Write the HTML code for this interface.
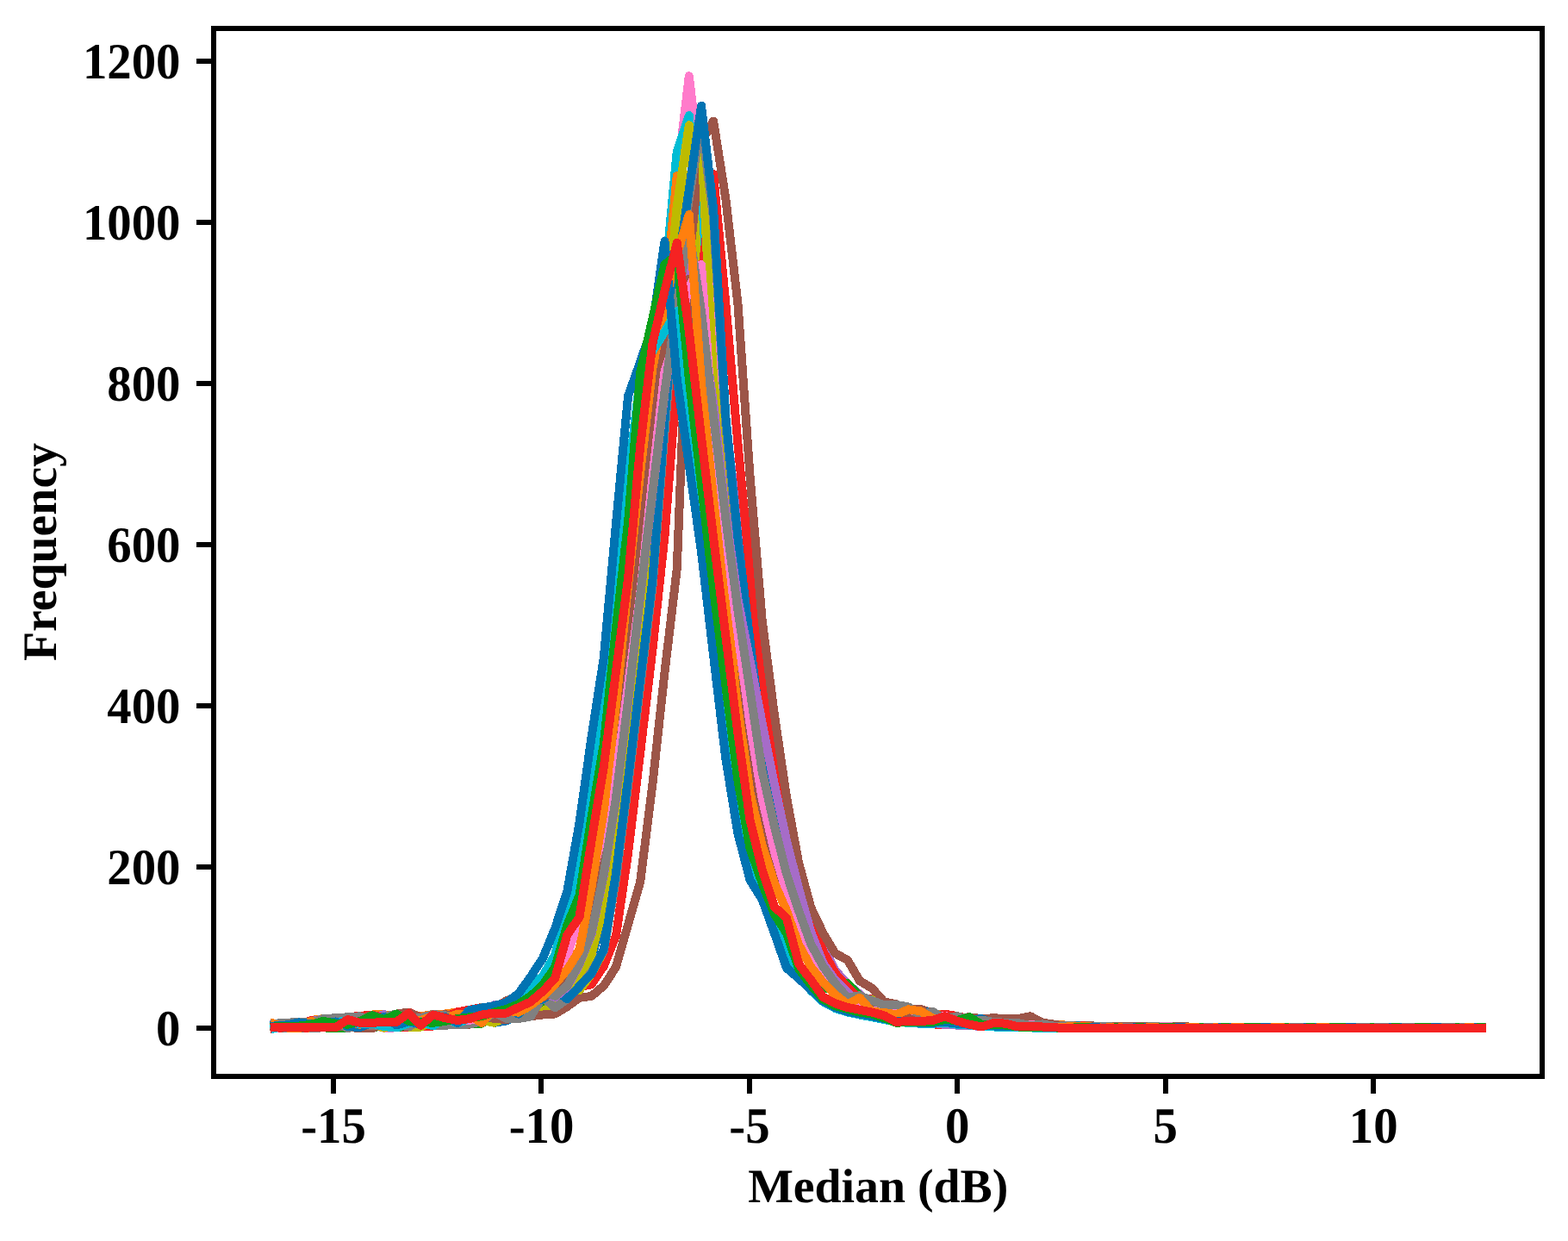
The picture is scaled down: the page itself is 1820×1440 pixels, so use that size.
<!DOCTYPE html>
<html lang="en">
<head>
<meta charset="utf-8">
<title>Median (dB) frequency histogram</title>
<style>
html,body{margin:0;padding:0;background:#fff;}
svg{display:block;}
text{font-family:"Liberation Serif","DejaVu Serif",serif;font-weight:bold;fill:#000;}
.t{font-size:56.8px;}
.l{font-size:55.8px;}
.c{fill:none;stroke-width:10;stroke-linejoin:round;stroke-linecap:square;}
</style>
</head>
<body>
<svg width="1820" height="1440" viewBox="0 0 1820 1440" shape-rendering="crispEdges" text-rendering="geometricPrecision">
<rect x="0" y="0" width="1820" height="1440" fill="#fff"/>
<g class="c">
<polyline stroke="#0173b2" points="318.8,1190.8 332.9,1190.9 347.0,1193.3 361.2,1191.7 375.3,1191.5 389.5,1189.7 403.6,1188.2 417.8,1193.3 431.9,1193.3 446.1,1185.9 460.2,1191.2 474.4,1185.2 488.5,1191.5 502.7,1189.4 516.8,1185.2 531.0,1189.1 545.1,1179.7 559.3,1178.5 573.4,1186.8 587.6,1184.5 601.7,1177.6 615.9,1164.7 630.0,1174.0 644.2,1166.4 658.3,1151.2 672.5,1137.1 686.6,1112.1 700.8,1060.0 714.9,985.5 729.1,890.7 743.2,768.1 757.4,642.8 771.5,496.6 785.7,385.2 799.8,295.7 814.0,258.3 828.1,323.8 842.3,520.9 856.4,644.4 870.6,742.0 884.7,835.8 898.9,919.5 913.0,981.3 927.2,1029.5 941.3,1069.0 955.5,1107.9 969.6,1135.1 983.8,1145.3 997.9,1162.4 1012.1,1167.8 1026.2,1176.2 1040.3,1180.3 1054.5,1179.2 1068.6,1185.2 1082.8,1187.8 1096.9,1187.4 1111.1,1189.6 1125.2,1190.2 1139.4,1188.6 1153.5,1188.3 1167.7,1190.6 1181.8,1191.9 1196.0,1192.4 1210.1,1192.1 1224.3,1190.7 1238.4,1191.9 1252.6,1192.8 1266.7,1191.9 1280.9,1193.3 1295.0,1193.0 1309.2,1192.0 1323.3,1192.9 1337.5,1193.1 1351.6,1193.3 1365.8,1193.0 1379.9,1192.3 1394.1,1193.3 1408.2,1192.6 1422.4,1192.6 1436.5,1192.5 1450.7,1192.7 1464.8,1192.6 1479.0,1193.1 1493.1,1193.0 1507.3,1193.2 1521.4,1193.3 1535.6,1192.6 1549.7,1193.0 1563.9,1193.3 1578.0,1193.1 1592.2,1193.2 1606.3,1193.3 1620.5,1193.3 1634.6,1193.1 1648.8,1193.0 1662.9,1193.0 1677.1,1193.2 1691.2,1193.3 1705.4,1193.3 1719.5,1193.3"/>
<polyline stroke="#ff7f0e" points="318.8,1187.7 332.9,1189.7 347.0,1189.0 361.2,1184.0 375.3,1182.1 389.5,1181.2 403.6,1183.1 417.8,1178.9 431.9,1177.5 446.1,1177.0 460.2,1182.1 474.4,1176.4 488.5,1179.4 502.7,1177.0 516.8,1176.5 531.0,1174.2 545.1,1171.9 559.3,1170.8 573.4,1171.4 587.6,1171.9 601.7,1168.2 615.9,1153.4 630.0,1153.0 644.2,1147.9 658.3,1134.9 672.5,1113.9 686.6,1061.9 700.8,986.5 714.9,892.0 729.1,769.4 743.2,644.3 757.4,498.2 771.5,396.3 785.7,323.8 799.8,267.7 814.0,351.8 828.1,519.6 842.3,643.1 856.4,741.0 870.6,834.8 884.7,918.8 898.9,980.6 913.0,1029.1 927.2,1071.2 941.3,1104.5 955.5,1128.9 969.6,1144.5 983.8,1151.3 997.9,1157.2 1012.1,1159.4 1026.2,1163.4 1040.3,1165.9 1054.5,1169.4 1068.6,1175.9 1082.8,1176.7 1096.9,1176.5 1111.1,1182.9 1125.2,1181.5 1139.4,1185.5 1153.5,1185.9 1167.7,1187.6 1181.8,1187.1 1196.0,1187.7 1210.1,1188.5 1224.3,1189.1 1238.4,1189.6 1252.6,1189.9 1266.7,1190.9 1280.9,1191.4 1295.0,1190.8 1309.2,1190.8 1323.3,1190.9 1337.5,1192.0 1351.6,1191.2 1365.8,1191.3 1379.9,1191.5 1394.1,1192.1 1408.2,1191.5 1422.4,1192.3 1436.5,1191.6 1450.7,1192.0 1464.8,1192.1 1479.0,1191.6 1493.1,1192.3 1507.3,1191.7 1521.4,1191.7 1535.6,1192.1 1549.7,1192.2 1563.9,1191.7 1578.0,1191.9 1592.2,1191.8 1606.3,1192.5 1620.5,1192.1 1634.6,1192.3 1648.8,1191.9 1662.9,1192.5 1677.1,1191.9 1691.2,1192.6 1705.4,1191.9 1719.5,1192.6"/>
<polyline stroke="#0ca01a" points="318.8,1191.8 332.9,1192.6 347.0,1190.9 361.2,1189.8 375.3,1192.4 389.5,1192.9 403.6,1186.3 417.8,1193.0 431.9,1193.3 446.1,1182.0 460.2,1189.1 474.4,1182.4 488.5,1188.4 502.7,1185.6 516.8,1189.6 531.0,1183.8 545.1,1179.1 559.3,1182.9 573.4,1177.4 587.6,1175.3 601.7,1179.2 615.9,1170.7 630.0,1172.6 644.2,1159.7 658.3,1142.4 672.5,1123.1 686.6,1098.9 700.8,1034.0 714.9,952.8 729.1,847.4 743.2,724.8 757.4,591.1 771.5,445.0 785.7,359.9 799.8,277.0 814.0,314.4 828.1,441.0 842.3,564.5 856.4,681.3 870.6,775.1 884.7,868.9 898.9,941.3 913.0,1002.1 927.2,1044.5 941.3,1084.2 955.5,1115.1 969.6,1135.0 983.8,1149.9 997.9,1161.8 1012.1,1168.9 1026.2,1176.4 1040.3,1183.2 1054.5,1176.2 1068.6,1176.3 1082.8,1188.4 1096.9,1182.6 1111.1,1188.0 1125.2,1190.2 1139.4,1190.5 1153.5,1188.8 1167.7,1188.8 1181.8,1192.1 1196.0,1190.8 1210.1,1192.7 1224.3,1191.3 1238.4,1193.0 1252.6,1191.4 1266.7,1191.3 1280.9,1192.7 1295.0,1191.5 1309.2,1193.2 1323.3,1193.3 1337.5,1192.6 1351.6,1193.3 1365.8,1193.3 1379.9,1193.1 1394.1,1192.7 1408.2,1193.3 1422.4,1193.3 1436.5,1192.3 1450.7,1193.2 1464.8,1192.2 1479.0,1192.3 1493.1,1193.1 1507.3,1193.0 1521.4,1192.9 1535.6,1192.7 1549.7,1192.8 1563.9,1192.9 1578.0,1192.8 1592.2,1192.3 1606.3,1193.0 1620.5,1193.1 1634.6,1192.7 1648.8,1193.3 1662.9,1193.3 1677.1,1192.4 1691.2,1193.0 1705.4,1192.9 1719.5,1193.3"/>
<polyline stroke="#f52222" points="318.8,1193.3 332.9,1192.4 347.0,1193.3 361.2,1192.9 375.3,1190.9 389.5,1185.7 403.6,1186.7 417.8,1186.5 431.9,1193.3 446.1,1188.6 460.2,1191.9 474.4,1191.5 488.5,1191.5 502.7,1190.5 516.8,1181.5 531.0,1181.2 545.1,1180.1 559.3,1178.3 573.4,1186.4 587.6,1176.3 601.7,1170.5 615.9,1164.0 630.0,1159.6 644.2,1147.9 658.3,1131.7 672.5,1107.0 686.6,1049.4 700.8,973.4 714.9,874.7 729.1,752.1 743.2,623.6 757.4,477.5 771.5,382.5 785.7,305.1 799.8,295.7 814.0,414.5 828.1,537.0 842.3,660.4 856.4,754.2 870.6,848.0 884.7,927.6 898.9,989.3 913.0,1035.1 927.2,1076.5 941.3,1110.8 955.5,1135.5 969.6,1151.8 983.8,1163.4 997.9,1171.0 1012.1,1174.2 1026.2,1180.7 1040.3,1178.8 1054.5,1175.4 1068.6,1187.7 1082.8,1188.4 1096.9,1189.0 1111.1,1184.7 1125.2,1187.3 1139.4,1190.9 1153.5,1191.0 1167.7,1191.8 1181.8,1191.1 1196.0,1192.4 1210.1,1190.9 1224.3,1190.6 1238.4,1190.9 1252.6,1191.8 1266.7,1191.3 1280.9,1193.3 1295.0,1193.2 1309.2,1191.7 1323.3,1192.2 1337.5,1193.0 1351.6,1192.0 1365.8,1192.7 1379.9,1192.4 1394.1,1193.3 1408.2,1193.3 1422.4,1193.0 1436.5,1193.3 1450.7,1193.1 1464.8,1192.2 1479.0,1193.2 1493.1,1193.3 1507.3,1193.3 1521.4,1193.3 1535.6,1192.5 1549.7,1193.2 1563.9,1193.3 1578.0,1193.3 1592.2,1192.3 1606.3,1193.1 1620.5,1193.3 1634.6,1193.3 1648.8,1193.3 1662.9,1193.3 1677.1,1192.8 1691.2,1193.3 1705.4,1193.3 1719.5,1193.0"/>
<polyline stroke="#a66cc8" points="318.8,1188.6 332.9,1187.5 347.0,1185.9 361.2,1185.4 375.3,1182.1 389.5,1190.6 403.6,1185.6 417.8,1178.9 431.9,1181.3 446.1,1177.2 460.2,1188.0 474.4,1181.5 488.5,1185.9 502.7,1181.6 516.8,1180.6 531.0,1186.4 545.1,1182.5 559.3,1179.8 573.4,1166.3 587.6,1164.3 601.7,1173.8 615.9,1154.4 630.0,1168.3 644.2,1154.6 658.3,1163.4 672.5,1146.7 686.6,1123.1 700.8,1103.2 714.9,1013.6 729.1,903.4 743.2,788.4 757.4,673.3 771.5,568.0 785.7,464.0 799.8,389.2 814.0,298.6 828.1,400.5 842.3,485.9 856.4,609.5 870.6,715.4 884.7,809.2 898.9,902.0 913.0,963.8 927.2,1017.5 941.3,1061.1 955.5,1098.9 969.6,1126.3 983.8,1141.7 997.9,1153.6 1012.1,1165.1 1026.2,1164.7 1040.3,1177.2 1054.5,1177.1 1068.6,1176.1 1082.8,1185.7 1096.9,1186.3 1111.1,1186.2 1125.2,1181.5 1139.4,1188.3 1153.5,1186.7 1167.7,1186.5 1181.8,1187.1 1196.0,1190.2 1210.1,1190.6 1224.3,1190.4 1238.4,1190.1 1252.6,1192.4 1266.7,1190.7 1280.9,1190.9 1295.0,1190.8 1309.2,1192.8 1323.3,1190.9 1337.5,1192.8 1351.6,1192.3 1365.8,1191.9 1379.9,1191.5 1394.1,1192.5 1408.2,1191.5 1422.4,1192.1 1436.5,1192.5 1450.7,1192.5 1464.8,1192.8 1479.0,1192.9 1493.1,1192.8 1507.3,1192.0 1521.4,1191.7 1535.6,1192.8 1549.7,1193.0 1563.9,1191.7 1578.0,1192.3 1592.2,1192.5 1606.3,1192.7 1620.5,1192.3 1634.6,1192.0 1648.8,1192.5 1662.9,1192.5 1677.1,1193.0 1691.2,1191.9 1705.4,1193.1 1719.5,1192.5"/>
<polyline stroke="#ff7bcb" points="318.8,1193.3 332.9,1190.3 347.0,1193.3 361.2,1189.7 375.3,1190.3 389.5,1192.9 403.6,1189.0 417.8,1193.3 431.9,1189.2 446.1,1192.9 460.2,1192.4 474.4,1187.2 488.5,1182.8 502.7,1190.5 516.8,1188.6 531.0,1182.6 545.1,1176.4 559.3,1180.4 573.4,1182.1 587.6,1166.9 601.7,1178.2 615.9,1176.0 630.0,1169.9 644.2,1158.4 658.3,1143.5 672.5,1125.4 686.6,1101.7 700.8,1029.1 714.9,946.3 729.1,838.7 743.2,716.1 757.4,584.6 771.5,445.3 785.7,206.9 799.8,88.2 814.0,206.0 828.1,379.9 842.3,544.4 856.4,687.9 870.6,781.7 884.7,875.5 898.9,945.7 913.0,1005.1 927.2,1047.5 941.3,1090.5 955.5,1120.6 969.6,1142.2 983.8,1152.0 997.9,1161.3 1012.1,1170.4 1026.2,1174.5 1040.3,1176.8 1054.5,1180.9 1068.6,1177.1 1082.8,1177.8 1096.9,1185.2 1111.1,1184.8 1125.2,1190.2 1139.4,1187.2 1153.5,1188.9 1167.7,1187.7 1181.8,1189.0 1196.0,1191.8 1210.1,1191.8 1224.3,1191.1 1238.4,1193.3 1252.6,1192.4 1266.7,1193.3 1280.9,1193.3 1295.0,1193.3 1309.2,1191.9 1323.3,1193.3 1337.5,1193.1 1351.6,1192.9 1365.8,1192.0 1379.9,1193.3 1394.1,1192.8 1408.2,1192.7 1422.4,1192.1 1436.5,1192.3 1450.7,1192.2 1464.8,1193.1 1479.0,1192.9 1493.1,1193.0 1507.3,1192.2 1521.4,1192.1 1535.6,1193.3 1549.7,1193.3 1563.9,1193.2 1578.0,1193.2 1592.2,1192.9 1606.3,1192.7 1620.5,1193.2 1634.6,1193.3 1648.8,1193.0 1662.9,1193.0 1677.1,1192.8 1691.2,1192.3 1705.4,1192.6 1719.5,1192.9"/>
<polyline stroke="#00bcd4" points="318.8,1191.4 332.9,1192.4 347.0,1187.4 361.2,1192.7 375.3,1187.6 389.5,1183.3 403.6,1192.2 417.8,1185.9 431.9,1184.3 446.1,1192.1 460.2,1186.8 474.4,1180.6 488.5,1185.6 502.7,1181.5 516.8,1187.6 531.0,1185.7 545.1,1186.8 559.3,1179.0 573.4,1169.4 587.6,1171.7 601.7,1163.5 615.9,1166.7 630.0,1160.4 644.2,1142.6 658.3,1127.8 672.5,1101.3 686.6,1029.8 700.8,947.2 714.9,840.0 729.1,717.4 743.2,598.5 757.4,482.7 771.5,327.5 785.7,176.1 799.8,134.0 814.0,295.7 828.1,464.0 842.3,686.9 856.4,780.7 870.6,874.5 884.7,945.0 898.9,1004.7 913.0,1047.0 927.2,1092.5 941.3,1121.4 955.5,1138.6 969.6,1151.4 983.8,1164.7 997.9,1165.3 1012.1,1177.1 1026.2,1179.0 1040.3,1173.9 1054.5,1170.6 1068.6,1186.7 1082.8,1180.9 1096.9,1182.0 1111.1,1188.1 1125.2,1188.0 1139.4,1184.3 1153.5,1186.4 1167.7,1191.1 1181.8,1188.9 1196.0,1188.4 1210.1,1191.7 1224.3,1190.8 1238.4,1193.2 1252.6,1192.2 1266.7,1191.4 1280.9,1191.8 1295.0,1191.5 1309.2,1193.1 1323.3,1192.6 1337.5,1191.6 1351.6,1192.2 1365.8,1192.5 1379.9,1192.6 1394.1,1191.7 1408.2,1192.4 1422.4,1193.3 1436.5,1192.0 1450.7,1192.8 1464.8,1192.6 1479.0,1193.0 1493.1,1192.6 1507.3,1192.8 1521.4,1193.2 1535.6,1192.4 1549.7,1193.2 1563.9,1192.2 1578.0,1193.3 1592.2,1192.2 1606.3,1192.2 1620.5,1192.6 1634.6,1192.4 1648.8,1193.0 1662.9,1192.3 1677.1,1192.8 1691.2,1193.0 1705.4,1192.1 1719.5,1192.8"/>
<polyline stroke="#ff7f0e" points="318.8,1189.9 332.9,1189.3 347.0,1192.2 361.2,1192.6 375.3,1188.7 389.5,1189.7 403.6,1183.5 417.8,1184.0 431.9,1184.4 446.1,1184.5 460.2,1182.6 474.4,1188.9 488.5,1185.6 502.7,1188.2 516.8,1178.6 531.0,1188.0 545.1,1175.9 559.3,1186.0 573.4,1173.6 587.6,1176.8 601.7,1172.0 615.9,1157.5 630.0,1162.2 644.2,1144.2 658.3,1121.1 672.5,1102.0 686.6,1029.8 700.8,947.2 714.9,840.0 729.1,717.4 743.2,582.3 757.4,437.8 771.5,351.8 785.7,204.1 799.8,211.6 814.0,417.3 828.1,559.0 842.3,686.9 856.4,780.7 870.6,874.5 884.7,945.0 898.9,1004.7 913.0,1047.0 927.2,1088.2 941.3,1118.8 955.5,1137.3 969.6,1155.8 983.8,1163.9 997.9,1161.3 1012.1,1170.7 1026.2,1181.2 1040.3,1170.2 1054.5,1178.7 1068.6,1179.5 1082.8,1185.1 1096.9,1183.9 1111.1,1185.8 1125.2,1184.0 1139.4,1190.0 1153.5,1188.6 1167.7,1190.8 1181.8,1188.9 1196.0,1192.1 1210.1,1191.5 1224.3,1191.7 1238.4,1191.1 1252.6,1193.1 1266.7,1192.0 1280.9,1192.8 1295.0,1192.6 1309.2,1192.2 1323.3,1191.2 1337.5,1192.3 1351.6,1191.5 1365.8,1193.0 1379.9,1191.7 1394.1,1192.7 1408.2,1193.0 1422.4,1192.1 1436.5,1191.8 1450.7,1193.3 1464.8,1192.9 1479.0,1192.1 1493.1,1192.8 1507.3,1192.9 1521.4,1193.3 1535.6,1193.2 1549.7,1192.4 1563.9,1191.9 1578.0,1191.9 1592.2,1192.6 1606.3,1193.3 1620.5,1192.9 1634.6,1192.2 1648.8,1192.2 1662.9,1192.5 1677.1,1193.0 1691.2,1192.6 1705.4,1192.7 1719.5,1192.5"/>
<polyline stroke="#0ca01a" points="318.8,1191.0 332.9,1190.6 347.0,1189.1 361.2,1192.9 375.3,1192.2 389.5,1192.9 403.6,1193.2 417.8,1186.5 431.9,1193.3 446.1,1188.3 460.2,1192.4 474.4,1190.2 488.5,1188.7 502.7,1182.9 516.8,1184.9 531.0,1189.1 545.1,1187.7 559.3,1187.7 573.4,1174.6 587.6,1171.9 601.7,1168.1 615.9,1164.0 630.0,1162.7 644.2,1150.9 658.3,1134.9 672.5,1111.9 686.6,1069.5 700.8,999.5 714.9,907.0 729.1,786.7 743.2,664.2 757.4,518.8 771.5,403.4 785.7,323.8 799.8,258.3 814.0,351.8 828.1,502.1 842.3,625.6 856.4,727.7 870.6,821.5 884.7,910.1 898.9,971.9 913.0,1023.1 927.2,1065.7 941.3,1105.1 955.5,1146.6 969.6,1148.5 983.8,1141.0 997.9,1155.9 1012.1,1167.2 1026.2,1179.1 1040.3,1175.8 1054.5,1174.5 1068.6,1187.7 1082.8,1188.4 1096.9,1182.3 1111.1,1183.8 1125.2,1186.9 1139.4,1190.9 1153.5,1190.5 1167.7,1188.7 1181.8,1189.1 1196.0,1189.9 1210.1,1192.7 1224.3,1190.7 1238.4,1192.8 1252.6,1191.8 1266.7,1193.3 1280.9,1191.4 1295.0,1192.4 1309.2,1192.2 1323.3,1193.3 1337.5,1192.5 1351.6,1192.6 1365.8,1192.7 1379.9,1193.1 1394.1,1192.5 1408.2,1193.1 1422.4,1193.2 1436.5,1193.3 1450.7,1192.6 1464.8,1193.3 1479.0,1193.3 1493.1,1193.3 1507.3,1192.7 1521.4,1192.8 1535.6,1192.9 1549.7,1193.3 1563.9,1193.0 1578.0,1193.2 1592.2,1193.3 1606.3,1193.3 1620.5,1192.3 1634.6,1193.3 1648.8,1193.2 1662.9,1193.3 1677.1,1192.8 1691.2,1193.3 1705.4,1193.0 1719.5,1193.2"/>
<polyline stroke="#bdbb00" points="318.8,1191.7 332.9,1191.8 347.0,1189.6 361.2,1192.9 375.3,1192.4 389.5,1189.2 403.6,1190.1 417.8,1193.3 431.9,1189.0 446.1,1192.7 460.2,1186.7 474.4,1191.5 488.5,1191.5 502.7,1184.2 516.8,1189.6 531.0,1189.1 545.1,1182.3 559.3,1183.5 573.4,1186.8 587.6,1180.9 601.7,1175.5 615.9,1176.5 630.0,1173.2 644.2,1165.2 658.3,1151.7 672.5,1135.9 686.6,1107.6 700.8,1049.9 714.9,960.5 729.1,856.5 743.2,735.3 757.4,585.5 771.5,389.2 785.7,239.6 799.8,145.2 814.0,379.9 828.1,459.4 842.3,589.1 856.4,705.3 870.6,805.1 884.7,903.2 898.9,967.5 913.0,1020.6 927.2,1065.8 941.3,1105.1 955.5,1128.9 969.6,1142.4 983.8,1157.9 997.9,1167.8 1012.1,1176.7 1026.2,1180.6 1040.3,1176.1 1054.5,1177.1 1068.6,1187.7 1082.8,1184.1 1096.9,1186.9 1111.1,1189.6 1125.2,1187.7 1139.4,1187.2 1153.5,1191.3 1167.7,1191.8 1181.8,1191.3 1196.0,1190.1 1210.1,1192.7 1224.3,1193.0 1238.4,1193.3 1252.6,1192.6 1266.7,1193.1 1280.9,1193.3 1295.0,1193.3 1309.2,1193.3 1323.3,1193.3 1337.5,1192.1 1351.6,1193.0 1365.8,1193.3 1379.9,1192.4 1394.1,1193.3 1408.2,1193.3 1422.4,1193.3 1436.5,1193.3 1450.7,1193.3 1464.8,1193.3 1479.0,1192.6 1493.1,1193.3 1507.3,1193.3 1521.4,1193.0 1535.6,1192.6 1549.7,1193.3 1563.9,1192.8 1578.0,1193.3 1592.2,1193.1 1606.3,1193.0 1620.5,1192.6 1634.6,1192.8 1648.8,1193.2 1662.9,1192.7 1677.1,1193.3 1691.2,1193.3 1705.4,1192.6 1719.5,1193.1"/>
<polyline stroke="#f52222" points="318.8,1190.4 332.9,1186.8 347.0,1188.4 361.2,1184.0 375.3,1187.0 389.5,1181.2 403.6,1180.3 417.8,1178.9 431.9,1177.5 446.1,1181.3 460.2,1179.4 474.4,1174.6 488.5,1180.7 502.7,1180.3 516.8,1180.2 531.0,1174.2 545.1,1171.8 559.3,1169.0 573.4,1172.1 587.6,1161.1 601.7,1156.6 615.9,1159.2 630.0,1148.9 644.2,1149.5 658.3,1158.8 672.5,1145.3 686.6,1142.2 700.8,1121.1 714.9,1086.1 729.1,989.6 743.2,872.9 757.4,753.7 771.5,621.6 785.7,441.7 799.8,389.2 814.0,323.8 828.1,202.2 842.3,351.8 856.4,514.2 870.6,664.5 884.7,777.7 898.9,890.9 913.0,959.1 927.2,1016.4 941.3,1058.7 955.5,1104.0 969.6,1129.4 983.8,1145.6 997.9,1159.4 1012.1,1159.4 1026.2,1167.1 1040.3,1165.9 1054.5,1171.6 1068.6,1172.4 1082.8,1179.8 1096.9,1176.5 1111.1,1179.3 1125.2,1182.0 1139.4,1186.4 1153.5,1186.1 1167.7,1187.3 1181.8,1187.1 1196.0,1187.7 1210.1,1188.4 1224.3,1189.9 1238.4,1191.3 1252.6,1189.9 1266.7,1190.2 1280.9,1191.5 1295.0,1190.8 1309.2,1190.9 1323.3,1190.9 1337.5,1192.1 1351.6,1192.1 1365.8,1191.3 1379.9,1191.5 1394.1,1191.6 1408.2,1191.5 1422.4,1191.5 1436.5,1191.6 1450.7,1192.0 1464.8,1192.3 1479.0,1192.4 1493.1,1192.0 1507.3,1191.7 1521.4,1191.9 1535.6,1192.0 1549.7,1191.7 1563.9,1191.7 1578.0,1191.8 1592.2,1192.1 1606.3,1191.8 1620.5,1191.8 1634.6,1191.8 1648.8,1191.9 1662.9,1192.6 1677.1,1191.9 1691.2,1192.2 1705.4,1192.1 1719.5,1192.0"/>
<polyline stroke="#9c5548" points="318.8,1191.5 332.9,1193.1 347.0,1193.3 361.2,1191.4 375.3,1190.6 389.5,1191.0 403.6,1191.5 417.8,1193.3 431.9,1193.3 446.1,1187.3 460.2,1192.0 474.4,1185.8 488.5,1185.3 502.7,1183.6 516.8,1182.0 531.0,1189.1 545.1,1188.7 559.3,1180.4 573.4,1181.7 587.6,1183.1 601.7,1180.3 615.9,1179.3 630.0,1177.5 644.2,1176.5 658.3,1168.1 672.5,1157.8 686.6,1155.9 700.8,1143.8 714.9,1122.3 729.1,1072.7 743.2,1023.2 757.4,910.0 771.5,780.1 785.7,660.4 799.8,305.1 814.0,164.8 828.1,140.5 842.3,230.3 856.4,351.8 870.6,553.8 884.7,720.2 898.9,829.6 913.0,925.0 927.2,1001.7 941.3,1053.1 955.5,1083.0 969.6,1106.4 983.8,1113.9 997.9,1138.2 1012.1,1146.6 1026.2,1162.5 1040.3,1165.3 1054.5,1171.8 1068.6,1170.9 1082.8,1175.6 1096.9,1180.3 1111.1,1181.2 1125.2,1180.3 1139.4,1182.1 1153.5,1181.2 1167.7,1182.1 1181.8,1182.1 1196.0,1179.3 1210.1,1186.8 1224.3,1188.7 1238.4,1191.6 1252.6,1192.2 1266.7,1192.7 1280.9,1191.6 1295.0,1193.3 1309.2,1192.5 1323.3,1192.1 1337.5,1193.0 1351.6,1192.4 1365.8,1193.3 1379.9,1193.2 1394.1,1193.3 1408.2,1193.2 1422.4,1192.7 1436.5,1193.3 1450.7,1193.3 1464.8,1192.5 1479.0,1193.3 1493.1,1193.3 1507.3,1192.3 1521.4,1193.0 1535.6,1193.3 1549.7,1192.9 1563.9,1193.3 1578.0,1193.3 1592.2,1192.7 1606.3,1192.9 1620.5,1193.2 1634.6,1193.1 1648.8,1193.0 1662.9,1193.1 1677.1,1193.3 1691.2,1192.7 1705.4,1192.7 1719.5,1193.2"/>
<polyline stroke="#bdbb00" points="318.8,1190.5 332.9,1189.2 347.0,1191.1 361.2,1185.3 375.3,1183.5 389.5,1184.6 403.6,1189.9 417.8,1184.8 431.9,1186.7 446.1,1187.4 460.2,1176.9 474.4,1174.6 488.5,1189.2 502.7,1178.4 516.8,1180.9 531.0,1182.2 545.1,1182.3 559.3,1174.1 573.4,1175.9 587.6,1167.2 601.7,1163.4 615.9,1172.9 630.0,1152.4 644.2,1146.2 658.3,1145.9 672.5,1149.2 686.6,1129.9 700.8,1103.6 714.9,1016.6 729.1,907.4 743.2,792.4 757.4,677.3 771.5,494.8 785.7,314.4 799.8,206.9 814.0,164.8 828.1,439.7 842.3,555.7 856.4,670.0 870.6,769.8 884.7,869.7 898.9,942.9 913.0,1003.1 927.2,1045.9 941.3,1091.4 955.5,1118.5 969.6,1141.3 983.8,1156.2 997.9,1161.6 1012.1,1159.9 1026.2,1172.6 1040.3,1175.1 1054.5,1179.9 1068.6,1181.5 1082.8,1178.4 1096.9,1185.5 1111.1,1187.3 1125.2,1185.6 1139.4,1188.9 1153.5,1187.5 1167.7,1187.2 1181.8,1188.0 1196.0,1189.8 1210.1,1190.8 1224.3,1191.0 1238.4,1192.9 1252.6,1190.7 1266.7,1192.0 1280.9,1192.2 1295.0,1192.8 1309.2,1192.0 1323.3,1191.8 1337.5,1192.3 1351.6,1191.4 1365.8,1191.9 1379.9,1192.7 1394.1,1192.3 1408.2,1191.6 1422.4,1192.3 1436.5,1192.2 1450.7,1193.0 1464.8,1192.4 1479.0,1192.4 1493.1,1192.5 1507.3,1192.5 1521.4,1192.3 1535.6,1192.3 1549.7,1192.4 1563.9,1192.9 1578.0,1192.5 1592.2,1191.8 1606.3,1192.6 1620.5,1193.1 1634.6,1193.2 1648.8,1192.4 1662.9,1193.1 1677.1,1193.1 1691.2,1193.0 1705.4,1192.6 1719.5,1191.9"/>
<polyline stroke="#808080" points="318.8,1189.7 332.9,1193.3 347.0,1190.3 361.2,1192.9 375.3,1192.4 389.5,1185.0 403.6,1193.3 417.8,1188.2 431.9,1190.3 446.1,1189.9 460.2,1188.9 474.4,1191.5 488.5,1184.1 502.7,1190.5 516.8,1189.6 531.0,1189.1 545.1,1188.4 559.3,1185.1 573.4,1174.7 587.6,1181.7 601.7,1182.1 615.9,1179.5 630.0,1156.8 644.2,1169.3 658.3,1159.3 672.5,1145.5 686.6,1127.8 700.8,1103.3 714.9,1020.5 729.1,911.4 743.2,796.5 757.4,681.4 771.5,501.6 785.7,328.5 799.8,230.3 814.0,141.5 828.1,253.7 842.3,492.6 856.4,634.1 870.6,752.5 884.7,865.7 898.9,942.9 913.0,1003.3 927.2,1048.9 941.3,1091.2 955.5,1120.8 969.6,1143.2 983.8,1155.4 997.9,1162.2 1012.1,1171.0 1026.2,1180.4 1040.3,1183.4 1054.5,1185.6 1068.6,1185.8 1082.8,1180.6 1096.9,1181.8 1111.1,1189.6 1125.2,1189.1 1139.4,1190.9 1153.5,1189.4 1167.7,1188.3 1181.8,1192.1 1196.0,1190.2 1210.1,1192.5 1224.3,1193.0 1238.4,1191.6 1252.6,1193.1 1266.7,1193.3 1280.9,1192.9 1295.0,1193.3 1309.2,1193.0 1323.3,1192.9 1337.5,1193.0 1351.6,1192.7 1365.8,1193.3 1379.9,1193.3 1394.1,1193.3 1408.2,1193.3 1422.4,1192.9 1436.5,1193.2 1450.7,1192.5 1464.8,1192.9 1479.0,1192.6 1493.1,1192.2 1507.3,1193.3 1521.4,1193.3 1535.6,1193.3 1549.7,1193.1 1563.9,1192.9 1578.0,1192.6 1592.2,1193.2 1606.3,1192.3 1620.5,1193.3 1634.6,1192.5 1648.8,1193.3 1662.9,1192.5 1677.1,1193.3 1691.2,1192.4 1705.4,1192.7 1719.5,1192.4"/>
<polyline stroke="#0173b2" points="318.8,1188.9 332.9,1187.2 347.0,1190.9 361.2,1186.1 375.3,1185.2 389.5,1185.1 403.6,1191.1 417.8,1192.0 431.9,1186.7 446.1,1181.1 460.2,1187.7 474.4,1182.7 488.5,1186.5 502.7,1179.2 516.8,1177.5 531.0,1182.7 545.1,1172.3 559.3,1185.3 573.4,1170.3 587.6,1164.4 601.7,1176.7 615.9,1159.6 630.0,1159.7 644.2,1148.3 658.3,1159.3 672.5,1144.5 686.6,1129.8 700.8,1101.8 714.9,1013.6 729.1,903.4 743.2,788.4 757.4,673.3 771.5,487.9 785.7,316.3 799.8,220.0 814.0,122.8 828.1,242.5 842.3,482.6 856.4,624.1 870.6,744.5 884.7,857.7 898.9,938.5 913.0,1000.0 927.2,1045.7 941.3,1091.1 955.5,1120.9 969.6,1141.8 983.8,1154.3 997.9,1165.8 1012.1,1165.3 1026.2,1168.1 1040.3,1177.5 1054.5,1179.4 1068.6,1172.8 1082.8,1175.6 1096.9,1185.0 1111.1,1188.8 1125.2,1183.7 1139.4,1182.1 1153.5,1188.7 1167.7,1190.1 1181.8,1188.9 1196.0,1189.0 1210.1,1191.2 1224.3,1192.5 1238.4,1189.8 1252.6,1190.3 1266.7,1193.1 1280.9,1191.7 1295.0,1191.5 1309.2,1192.2 1323.3,1191.6 1337.5,1191.2 1351.6,1192.1 1365.8,1192.5 1379.9,1192.9 1394.1,1192.8 1408.2,1193.0 1422.4,1193.0 1436.5,1192.9 1450.7,1191.9 1464.8,1192.4 1479.0,1192.0 1493.1,1191.8 1507.3,1192.0 1521.4,1193.2 1535.6,1191.9 1549.7,1193.1 1563.9,1192.1 1578.0,1192.0 1592.2,1192.3 1606.3,1192.7 1620.5,1193.1 1634.6,1193.1 1648.8,1192.4 1662.9,1192.9 1677.1,1192.5 1691.2,1192.9 1705.4,1193.0 1719.5,1192.9"/>
<polyline stroke="#a66cc8" points="318.8,1189.1 332.9,1188.2 347.0,1187.3 361.2,1188.2 375.3,1183.5 389.5,1182.6 403.6,1181.7 417.8,1180.7 431.9,1185.1 446.1,1181.2 460.2,1177.9 474.4,1183.7 488.5,1182.5 502.7,1178.4 516.8,1179.8 531.0,1180.9 545.1,1177.6 559.3,1170.4 573.4,1172.6 587.6,1166.2 601.7,1157.4 615.9,1152.7 630.0,1151.1 644.2,1157.2 658.3,1145.3 672.5,1119.1 686.6,1083.7 700.8,1015.8 714.9,928.1 729.1,814.1 743.2,691.6 757.4,573.1 771.5,456.1 785.7,353.3 799.8,295.7 814.0,370.5 828.1,468.0 842.3,595.0 856.4,695.1 870.6,767.1 884.7,839.0 898.9,910.0 913.0,975.5 927.2,1031.4 941.3,1081.6 955.5,1117.7 969.6,1137.5 983.8,1151.7 997.9,1163.6 1012.1,1171.0 1026.2,1167.7 1040.3,1172.9 1054.5,1177.1 1068.6,1176.9 1082.8,1186.7 1096.9,1189.0 1111.1,1189.6 1125.2,1190.1 1139.4,1190.9 1153.5,1188.8 1167.7,1187.9 1181.8,1192.0 1196.0,1189.9 1210.1,1189.4 1224.3,1190.6 1238.4,1193.2 1252.6,1191.7 1266.7,1192.9 1280.9,1193.1 1295.0,1193.3 1309.2,1192.4 1323.3,1191.6 1337.5,1193.3 1351.6,1193.3 1365.8,1192.8 1379.9,1193.3 1394.1,1192.7 1408.2,1192.3 1422.4,1192.8 1436.5,1193.3 1450.7,1193.3 1464.8,1193.2 1479.0,1192.5 1493.1,1192.1 1507.3,1192.7 1521.4,1193.3 1535.6,1193.2 1549.7,1192.9 1563.9,1193.3 1578.0,1193.3 1592.2,1192.9 1606.3,1192.3 1620.5,1193.2 1634.6,1192.3 1648.8,1192.3 1662.9,1192.9 1677.1,1193.2 1691.2,1193.2 1705.4,1192.6 1719.5,1192.4"/>
<polyline stroke="#9c5548" points="318.8,1187.7 332.9,1188.2 347.0,1189.0 361.2,1189.8 375.3,1182.7 389.5,1183.9 403.6,1180.3 417.8,1183.5 431.9,1177.5 446.1,1183.5 460.2,1176.5 474.4,1174.6 488.5,1181.4 502.7,1179.3 516.8,1177.1 531.0,1181.4 545.1,1174.5 559.3,1169.0 573.4,1174.8 587.6,1161.1 601.7,1157.0 615.9,1151.3 630.0,1157.5 644.2,1150.5 658.3,1137.6 672.5,1115.6 686.6,1064.8 700.8,981.5 714.9,881.2 729.1,742.6 743.2,604.1 757.4,465.7 771.5,400.4 785.7,351.8 799.8,323.8 814.0,507.4 828.1,627.1 842.3,722.4 856.4,808.3 870.6,894.3 884.7,953.9 898.9,1007.9 913.0,1047.2 927.2,1089.6 941.3,1115.4 955.5,1136.0 969.6,1154.7 983.8,1157.3 997.9,1168.3 1012.1,1169.4 1026.2,1163.4 1040.3,1166.4 1054.5,1179.7 1068.6,1170.9 1082.8,1183.1 1096.9,1181.0 1111.1,1179.3 1125.2,1182.4 1139.4,1186.4 1153.5,1187.6 1167.7,1188.1 1181.8,1189.8 1196.0,1187.7 1210.1,1191.0 1224.3,1190.1 1238.4,1189.6 1252.6,1190.9 1266.7,1190.2 1280.9,1191.8 1295.0,1190.7 1309.2,1190.8 1323.3,1191.1 1337.5,1191.1 1351.6,1191.8 1365.8,1191.3 1379.9,1191.5 1394.1,1191.9 1408.2,1191.9 1422.4,1191.6 1436.5,1192.1 1450.7,1192.6 1464.8,1191.6 1479.0,1192.3 1493.1,1192.0 1507.3,1191.7 1521.4,1192.5 1535.6,1192.7 1549.7,1192.6 1563.9,1191.9 1578.0,1192.3 1592.2,1192.4 1606.3,1192.2 1620.5,1191.8 1634.6,1192.5 1648.8,1192.3 1662.9,1191.9 1677.1,1192.0 1691.2,1192.5 1705.4,1192.3 1719.5,1192.3"/>
<polyline stroke="#ff7bcb" points="318.8,1188.1 332.9,1188.8 347.0,1188.2 361.2,1187.7 375.3,1182.1 389.5,1187.2 403.6,1188.6 417.8,1186.7 431.9,1186.0 446.1,1184.6 460.2,1185.0 474.4,1186.0 488.5,1184.2 502.7,1183.7 516.8,1179.9 531.0,1183.0 545.1,1183.8 559.3,1180.1 573.4,1172.1 587.6,1171.0 601.7,1158.9 615.9,1152.7 630.0,1153.7 644.2,1133.1 658.3,1108.8 672.5,1066.6 686.6,1019.2 700.8,961.9 714.9,900.3 729.1,794.5 743.2,688.3 757.4,553.9 771.5,431.1 785.7,389.2 799.8,333.1 814.0,307.0 828.1,505.2 842.3,624.3 856.4,734.3 870.6,840.5 884.7,927.0 898.9,988.5 913.0,1035.4 927.2,1079.9 941.3,1109.5 955.5,1137.0 969.6,1151.2 983.8,1160.2 997.9,1168.4 1012.1,1173.5 1026.2,1173.1 1040.3,1173.3 1054.5,1170.4 1068.6,1176.9 1082.8,1181.1 1096.9,1178.6 1111.1,1186.9 1125.2,1186.6 1139.4,1184.8 1153.5,1186.4 1167.7,1190.1 1181.8,1190.7 1196.0,1189.2 1210.1,1189.2 1224.3,1192.1 1238.4,1191.0 1252.6,1191.7 1266.7,1192.4 1280.9,1192.3 1295.0,1192.1 1309.2,1191.7 1323.3,1192.6 1337.5,1191.6 1351.6,1191.2 1365.8,1191.7 1379.9,1192.8 1394.1,1191.8 1408.2,1191.9 1422.4,1192.9 1436.5,1192.3 1450.7,1191.9 1464.8,1191.6 1479.0,1191.6 1493.1,1192.1 1507.3,1192.1 1521.4,1191.7 1535.6,1192.7 1549.7,1192.2 1563.9,1192.9 1578.0,1191.9 1592.2,1192.1 1606.3,1192.7 1620.5,1192.7 1634.6,1192.3 1648.8,1192.0 1662.9,1192.8 1677.1,1192.6 1691.2,1192.4 1705.4,1192.7 1719.5,1191.9"/>
<polyline stroke="#808080" points="318.8,1187.7 332.9,1186.8 347.0,1185.9 361.2,1186.8 375.3,1182.1 389.5,1181.2 403.6,1180.3 417.8,1179.3 431.9,1183.7 446.1,1179.8 460.2,1176.5 474.4,1182.2 488.5,1181.1 502.7,1177.0 516.8,1178.4 531.0,1179.5 545.1,1176.2 559.3,1169.0 573.4,1171.2 587.6,1164.8 601.7,1155.9 615.9,1151.3 630.0,1149.7 644.2,1155.8 658.3,1143.9 672.5,1117.7 686.6,1082.3 700.8,1014.3 714.9,926.7 729.1,812.7 743.2,690.2 757.4,571.7 771.5,454.7 785.7,351.8 799.8,267.7 814.0,361.2 828.1,482.7 842.3,601.7 856.4,707.8 870.6,801.6 884.7,895.4 898.9,958.8 913.0,1014.1 927.2,1057.0 941.3,1095.6 955.5,1121.6 969.6,1141.4 983.8,1157.6 997.9,1155.3 1012.1,1161.0 1026.2,1166.3 1040.3,1165.9 1054.5,1168.4 1068.6,1178.3 1082.8,1173.7 1096.9,1183.3 1111.1,1179.3 1125.2,1183.8 1139.4,1183.7 1153.5,1185.9 1167.7,1186.8 1181.8,1187.1 1196.0,1190.1 1210.1,1188.4 1224.3,1190.8 1238.4,1190.1 1252.6,1190.8 1266.7,1191.7 1280.9,1190.5 1295.0,1191.9 1309.2,1191.6 1323.3,1192.1 1337.5,1191.1 1351.6,1191.8 1365.8,1192.4 1379.9,1192.5 1394.1,1192.1 1408.2,1191.7 1422.4,1192.5 1436.5,1192.5 1450.7,1191.6 1464.8,1191.7 1479.0,1192.3 1493.1,1192.1 1507.3,1192.4 1521.4,1192.2 1535.6,1192.0 1549.7,1192.3 1563.9,1192.3 1578.0,1192.3 1592.2,1192.2 1606.3,1191.9 1620.5,1191.8 1634.6,1191.8 1648.8,1192.1 1662.9,1192.7 1677.1,1192.4 1691.2,1191.9 1705.4,1192.2 1719.5,1191.9"/>
<polyline stroke="#ff7f0e" points="318.8,1188.5 332.9,1192.5 347.0,1193.2 361.2,1184.9 375.3,1190.7 389.5,1191.6 403.6,1185.7 417.8,1188.8 431.9,1180.6 446.1,1189.6 460.2,1178.7 474.4,1186.6 488.5,1183.9 502.7,1179.2 516.8,1181.5 531.0,1176.7 545.1,1177.9 559.3,1186.9 573.4,1170.5 587.6,1172.1 601.7,1174.8 615.9,1166.6 630.0,1156.3 644.2,1141.9 658.3,1125.0 672.5,1103.3 686.6,1028.7 700.8,940.3 714.9,818.8 729.1,679.1 743.2,548.0 757.4,427.4 771.5,351.8 785.7,295.7 799.8,249.0 814.0,444.4 828.1,578.6 842.3,705.6 856.4,821.5 870.6,919.8 884.7,981.3 898.9,1024.6 913.0,1056.9 927.2,1096.3 941.3,1122.1 955.5,1140.1 969.6,1154.1 983.8,1165.5 997.9,1157.8 1012.1,1174.0 1026.2,1174.9 1040.3,1177.4 1054.5,1171.3 1068.6,1173.3 1082.8,1181.6 1096.9,1184.5 1111.1,1188.7 1125.2,1183.2 1139.4,1189.8 1153.5,1188.7 1167.7,1190.1 1181.8,1190.6 1196.0,1190.9 1210.1,1192.0 1224.3,1192.9 1238.4,1191.5 1252.6,1190.9 1266.7,1191.5 1280.9,1192.8 1295.0,1191.7 1309.2,1193.2 1323.3,1192.5 1337.5,1191.7 1351.6,1191.6 1365.8,1192.5 1379.9,1191.9 1394.1,1192.5 1408.2,1192.5 1422.4,1192.4 1436.5,1191.8 1450.7,1192.2 1464.8,1192.6 1479.0,1192.2 1493.1,1192.4 1507.3,1192.8 1521.4,1192.2 1535.6,1192.1 1549.7,1192.5 1563.9,1192.0 1578.0,1193.3 1592.2,1192.6 1606.3,1192.5 1620.5,1192.9 1634.6,1193.1 1648.8,1192.4 1662.9,1192.8 1677.1,1193.0 1691.2,1193.3 1705.4,1192.1 1719.5,1192.9"/>
<polyline stroke="#00bcd4" points="318.8,1193.1 332.9,1189.9 347.0,1189.8 361.2,1189.9 375.3,1191.4 389.5,1185.7 403.6,1185.1 417.8,1188.1 431.9,1187.7 446.1,1191.1 460.2,1192.4 474.4,1187.5 488.5,1185.5 502.7,1190.5 516.8,1181.6 531.0,1187.5 545.1,1181.0 559.3,1177.2 573.4,1172.7 587.6,1173.8 601.7,1160.9 615.9,1144.2 630.0,1132.6 644.2,1107.8 658.3,1055.0 672.5,996.6 686.6,895.2 700.8,785.6 714.9,676.1 729.1,553.8 743.2,437.5 757.4,407.9 771.5,384.6 785.7,361.2 799.8,469.4 814.0,603.0 828.1,722.8 842.3,832.4 856.4,927.1 870.6,997.8 884.7,1036.1 898.9,1070.9 913.0,1103.5 927.2,1131.1 941.3,1149.4 955.5,1162.5 969.6,1170.0 983.8,1174.6 997.9,1177.5 1012.1,1180.3 1026.2,1183.1 1040.3,1185.9 1054.5,1186.8 1068.6,1187.7 1082.8,1187.7 1096.9,1186.8 1111.1,1188.7 1125.2,1189.6 1139.4,1190.5 1153.5,1191.5 1167.7,1191.5 1181.8,1192.4 1196.0,1192.4 1210.1,1193.3 1224.3,1193.3 1238.4,1193.3 1252.6,1193.3 1266.7,1192.6 1280.9,1193.3 1295.0,1193.3 1309.2,1193.3 1323.3,1193.0 1337.5,1193.3 1351.6,1193.3 1365.8,1192.6 1379.9,1193.3 1394.1,1193.3 1408.2,1193.3 1422.4,1193.0 1436.5,1193.3 1450.7,1193.3 1464.8,1192.6 1479.0,1193.3 1493.1,1193.3 1507.3,1193.3 1521.4,1193.0 1535.6,1193.3 1549.7,1193.3 1563.9,1192.6 1578.0,1193.3 1592.2,1193.3 1606.3,1193.3 1620.5,1193.0 1634.6,1193.3 1648.8,1193.3 1662.9,1192.6 1677.1,1193.3 1691.2,1193.3 1705.4,1193.3 1719.5,1193.0"/>
<polyline stroke="#0173b2" points="318.8,1190.5 332.9,1189.4 347.0,1186.4 361.2,1188.3 375.3,1186.7 389.5,1185.5 403.6,1189.9 417.8,1185.2 431.9,1182.7 446.1,1179.9 460.2,1189.5 474.4,1185.2 488.5,1188.9 502.7,1179.3 516.8,1180.1 531.0,1187.1 545.1,1172.1 559.3,1169.6 573.4,1167.2 587.6,1163.4 601.7,1153.1 615.9,1133.5 630.0,1112.0 644.2,1077.4 658.3,1034.4 672.5,954.9 686.6,854.9 700.8,763.2 714.9,609.0 729.1,459.4 743.2,420.1 757.4,378.0 771.5,279.9 785.7,439.7 799.8,539.8 814.0,639.8 828.1,760.4 842.3,880.1 856.4,967.1 870.6,1021.3 884.7,1043.8 898.9,1083.0 913.0,1123.2 927.2,1135.4 941.3,1148.5 955.5,1161.6 969.6,1169.0 983.8,1173.7 997.9,1176.5 1012.1,1179.3 1026.2,1182.1 1040.3,1184.9 1054.5,1185.9 1068.6,1186.8 1082.8,1186.8 1096.9,1185.9 1111.1,1187.7 1125.2,1188.7 1139.4,1189.6 1153.5,1190.5 1167.7,1190.5 1181.8,1191.5 1196.0,1191.5 1210.1,1192.4 1224.3,1192.4 1238.4,1193.1 1252.6,1192.4 1266.7,1191.7 1280.9,1192.8 1295.0,1193.2 1309.2,1192.9 1323.3,1192.0 1337.5,1193.1 1351.6,1192.4 1365.8,1191.7 1379.9,1192.8 1394.1,1193.2 1408.2,1192.9 1422.4,1192.0 1436.5,1193.1 1450.7,1192.4 1464.8,1191.7 1479.0,1192.8 1493.1,1193.2 1507.3,1192.9 1521.4,1192.0 1535.6,1193.1 1549.7,1192.4 1563.9,1191.7 1578.0,1192.8 1592.2,1193.2 1606.3,1192.9 1620.5,1192.0 1634.6,1193.1 1648.8,1192.4 1662.9,1191.7 1677.1,1192.8 1691.2,1193.2 1705.4,1192.9 1719.5,1192.0"/>
<polyline stroke="#0ca01a" points="318.8,1191.5 332.9,1190.5 347.0,1190.5 361.2,1188.7 375.3,1184.9 389.5,1187.7 403.6,1188.7 417.8,1184.9 431.9,1178.4 446.1,1183.1 460.2,1176.5 474.4,1184.9 488.5,1185.9 502.7,1186.8 516.8,1184.9 531.0,1182.1 545.1,1180.3 559.3,1179.3 573.4,1174.6 587.6,1170.9 601.7,1165.3 615.9,1155.9 630.0,1142.9 644.2,1122.3 658.3,1073.7 672.5,1039.1 686.6,947.4 700.8,863.3 714.9,729.6 729.1,605.2 743.2,432.3 757.4,369.6 771.5,307.0 785.7,295.7 799.8,439.7 814.0,562.2 828.1,683.8 842.3,795.0 856.4,905.4 870.6,984.8 884.7,1025.0 898.9,1060.6 913.0,1083.0 927.2,1124.2 941.3,1142.9 955.5,1159.7 969.6,1167.2 983.8,1170.9 997.9,1174.6 1012.1,1176.5 1026.2,1181.2 1040.3,1186.8 1054.5,1185.9 1068.6,1185.9 1082.8,1185.9 1096.9,1183.1 1111.1,1184.0 1125.2,1180.3 1139.4,1188.7 1153.5,1188.7 1167.7,1189.6 1181.8,1191.5 1196.0,1191.5 1210.1,1192.4 1224.3,1192.4 1238.4,1193.2 1252.6,1191.9 1266.7,1192.6 1280.9,1193.1 1295.0,1192.4 1309.2,1193.0 1323.3,1192.2 1337.5,1193.2 1351.6,1191.9 1365.8,1192.6 1379.9,1193.1 1394.1,1192.4 1408.2,1193.0 1422.4,1192.2 1436.5,1193.2 1450.7,1191.9 1464.8,1192.6 1479.0,1193.1 1493.1,1192.4 1507.3,1193.0 1521.4,1192.2 1535.6,1193.2 1549.7,1191.9 1563.9,1192.6 1578.0,1193.1 1592.2,1192.4 1606.3,1193.0 1620.5,1192.2 1634.6,1193.2 1648.8,1191.9 1662.9,1192.6 1677.1,1193.1 1691.2,1192.4 1705.4,1193.0 1719.5,1192.2"/>
<polyline stroke="#f52222" points="318.8,1192.4 332.9,1192.4 347.0,1192.4 361.2,1192.4 375.3,1192.4 389.5,1192.4 403.6,1183.1 417.8,1186.8 431.9,1186.8 446.1,1185.9 460.2,1185.9 474.4,1175.6 488.5,1189.6 502.7,1177.5 516.8,1181.2 531.0,1184.0 545.1,1182.1 559.3,1177.5 573.4,1175.6 587.6,1175.6 601.7,1169.0 615.9,1162.5 630.0,1150.3 644.2,1135.4 658.3,1084.9 672.5,1064.3 686.6,975.5 700.8,889.5 714.9,780.1 729.1,670.7 743.2,517.3 757.4,398.6 771.5,337.8 785.7,281.7 799.8,384.6 814.0,507.1 828.1,623.9 842.3,738.0 856.4,851.1 870.6,952.1 884.7,1009.2 898.9,1052.2 913.0,1065.3 927.2,1118.5 941.3,1137.2 955.5,1156.9 969.6,1164.4 983.8,1169.0 997.9,1171.8 1012.1,1174.6 1026.2,1178.4 1040.3,1185.9 1054.5,1184.9 1068.6,1184.9 1082.8,1184.0 1096.9,1179.3 1111.1,1184.9 1125.2,1188.7 1139.4,1191.5 1153.5,1186.8 1167.7,1187.7 1181.8,1191.5 1196.0,1190.5 1210.1,1191.5 1224.3,1192.4 1238.4,1192.8 1252.6,1192.8 1266.7,1192.8 1280.9,1192.8 1295.0,1192.8 1309.2,1192.8 1323.3,1192.8 1337.5,1192.8 1351.6,1192.8 1365.8,1192.8 1379.9,1192.8 1394.1,1192.8 1408.2,1192.8 1422.4,1192.8 1436.5,1192.8 1450.7,1192.8 1464.8,1192.8 1479.0,1192.8 1493.1,1192.8 1507.3,1192.8 1521.4,1192.8 1535.6,1192.8 1549.7,1192.8 1563.9,1192.8 1578.0,1192.8 1592.2,1192.8 1606.3,1192.8 1620.5,1192.8 1634.6,1192.8 1648.8,1192.8 1662.9,1192.8 1677.1,1192.8 1691.2,1192.8 1705.4,1192.8 1719.5,1192.8"/>
</g>
<g stroke="#000" stroke-width="6" fill="none" stroke-linecap="butt">
<line x1="228.0" y1="1193.35" x2="248.0" y2="1193.35"/>
<line x1="228.0" y1="1006.35" x2="248.0" y2="1006.35"/>
<line x1="228.0" y1="819.35" x2="248.0" y2="819.35"/>
<line x1="228.0" y1="632.35" x2="248.0" y2="632.35"/>
<line x1="228.0" y1="445.35" x2="248.0" y2="445.35"/>
<line x1="228.0" y1="258.35" x2="248.0" y2="258.35"/>
<line x1="228.0" y1="71.35" x2="248.0" y2="71.35"/>
<line x1="387.00" y1="1248.6" x2="387.00" y2="1268.6"/>
<line x1="628.45" y1="1248.6" x2="628.45" y2="1268.6"/>
<line x1="869.90" y1="1248.6" x2="869.90" y2="1268.6"/>
<line x1="1111.35" y1="1248.6" x2="1111.35" y2="1268.6"/>
<line x1="1352.80" y1="1248.6" x2="1352.80" y2="1268.6"/>
<line x1="1594.25" y1="1248.6" x2="1594.25" y2="1268.6"/>
</g>
<rect x="248.00" y="33.00" width="1541.50" height="1215.60" fill="none" stroke="#000" stroke-width="6" stroke-linejoin="miter"/>
<g class="t" text-anchor="end">
<text transform="translate(209.5,1212.9) scale(1,1.04)">0</text>
<text transform="translate(209.5,1025.9) scale(1,1.04)">200</text>
<text transform="translate(209.5,838.9) scale(1,1.04)">400</text>
<text transform="translate(209.5,651.9) scale(1,1.04)">600</text>
<text transform="translate(209.5,464.9) scale(1,1.04)">800</text>
<text transform="translate(209.5,277.9) scale(1,1.04)">1000</text>
<text transform="translate(209.5,90.9) scale(1,1.04)">1200</text>
</g>
<g class="t" text-anchor="middle">
<text transform="translate(387.0,1326.0) scale(1,1.04)">-15</text>
<text transform="translate(628.5,1326.0) scale(1,1.04)">-10</text>
<text transform="translate(869.9,1326.0) scale(1,1.04)">-5</text>
<text transform="translate(1111.3,1326.0) scale(1,1.04)">0</text>
<text transform="translate(1352.8,1326.0) scale(1,1.04)">5</text>
<text transform="translate(1594.2,1326.0) scale(1,1.04)">10</text>
</g>
<text class="l" text-anchor="middle" x="1019.3" y="1394.9">Median (dB)</text>
<text class="l" text-anchor="middle" transform="translate(65,640.5) rotate(-90)">Frequency</text>
</svg>
</body>
</html>
